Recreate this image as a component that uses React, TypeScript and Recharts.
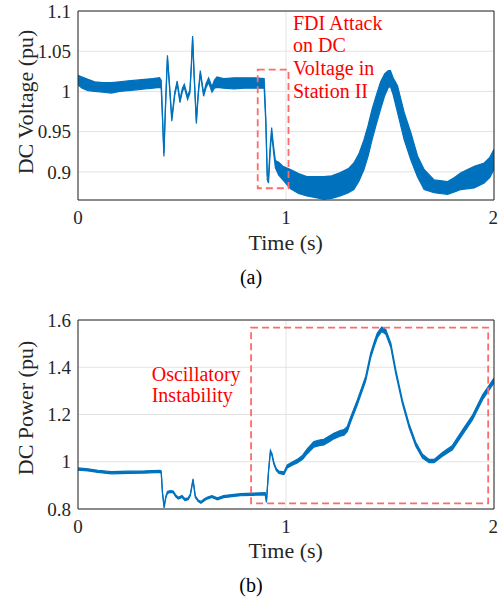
import React from "react";
import { ComposedChart, Area, XAxis, YAxis, CartesianGrid, ReferenceArea } from "recharts";

// DC voltage (top): time, lower and upper edge of the noisy trace
const timeV = [
  0, 0.02, 0.048, 0.08, 0.12, 0.16, 0.2, 0.24, 0.28, 0.32, 0.36, 0.392, 0.4, 0.407, 0.413, 0.42,
  0.43, 0.44, 0.451, 0.465, 0.477, 0.49, 0.502, 0.511, 0.527, 0.538, 0.545, 0.551, 0.558, 0.569,
  0.578, 0.588, 0.596, 0.604, 0.616, 0.628, 0.644, 0.656, 0.668, 0.7, 0.75, 0.8, 0.85, 0.895,
  0.903, 0.91, 0.916, 0.924, 0.931, 0.94, 0.949, 0.965, 0.985, 1.022, 1.06, 1.1, 1.18, 1.22,
  1.261, 1.3, 1.326, 1.35, 1.375, 1.395, 1.414, 1.435, 1.455, 1.475, 1.492, 1.502, 1.515, 1.536,
  1.568, 1.6, 1.632, 1.664, 1.712, 1.777, 1.81, 1.841, 1.905, 1.953, 1.98, 2,
];
const voltLo = [
  1.008, 1.004, 1.001, 1.0, 0.999, 0.998, 1.0, 1.001, 1.002, 1.003, 1.004, 1.005, 1.004, 0.96, 0.919, 0.975,
  1.041, 1.005, 0.963, 0.995, 1.009, 0.986, 1.0, 1.005, 0.99, 0.998, 1.03, 1.065, 1.02, 0.96,
  0.995, 1.022, 1.008, 0.994, 1.005, 1.011, 0.999, 1.004, 1.005, 1.004, 1.003, 1.004, 1.004, 1.004,
  0.96, 0.89, 0.886, 0.925, 0.948, 0.925, 0.905, 0.896, 0.89, 0.879, 0.873, 0.87, 0.866, 0.867,
  0.87, 0.874, 0.878, 0.888, 0.903, 0.92, 0.94, 0.96, 0.978, 0.995, 1.005, 1.006, 0.996, 0.974,
  0.94, 0.915, 0.894, 0.878, 0.874, 0.872, 0.875, 0.878, 0.88, 0.886, 0.893, 0.903,
];
const voltHi = [
  1.02, 1.018, 1.015, 1.012, 1.011, 1.011, 1.012, 1.013, 1.014, 1.015, 1.016, 1.017, 1.014, 0.966, 0.923, 0.979,
  1.045, 1.009, 0.967, 0.999, 1.013, 0.99, 1.004, 1.009, 0.994, 1.002, 1.034, 1.069, 1.024, 0.964,
  0.999, 1.026, 1.012, 0.998, 1.01, 1.017, 1.006, 1.014, 1.018, 1.016, 1.017, 1.017, 1.017, 1.016,
  0.966, 0.896, 0.895, 0.932, 0.955, 0.932, 0.914, 0.912, 0.907, 0.903, 0.898, 0.894, 0.894, 0.895,
  0.899, 0.904, 0.911, 0.922, 0.94, 0.958, 0.978, 0.996, 1.012, 1.022, 1.026, 1.026, 1.017, 1.007,
  0.974, 0.949, 0.92, 0.903, 0.89, 0.888, 0.893, 0.899, 0.907, 0.911, 0.918, 0.928,
];

// DC power (bottom)
const timeP = [
  0, 0.048, 0.096, 0.161, 0.241, 0.321, 0.394, 0.4, 0.406, 0.414, 0.422, 0.43, 0.444, 0.458, 0.47,
  0.482, 0.5, 0.514, 0.53, 0.54, 0.553, 0.564, 0.578, 0.591, 0.606, 0.62, 0.644, 0.67, 0.7, 0.74,
  0.781, 0.84, 0.9, 0.906, 0.916, 0.925, 0.933, 0.941, 0.953, 0.966, 0.99, 1.006, 1.03, 1.054,
  1.08, 1.102, 1.134, 1.16, 1.182, 1.21, 1.23, 1.26, 1.279, 1.295, 1.311, 1.343, 1.383, 1.407,
  1.425, 1.439, 1.46, 1.48, 1.504, 1.528, 1.56, 1.592, 1.624, 1.656, 1.688, 1.712, 1.752, 1.8,
  1.848, 1.897, 1.945, 2,
];
const powLo = [
  0.964, 0.961, 0.955, 0.949, 0.951, 0.952, 0.955, 0.954, 0.866, 0.805, 0.846, 0.866, 0.87, 0.868, 0.851,
  0.842, 0.849, 0.836, 0.839, 0.856, 0.921, 0.849, 0.831, 0.824, 0.834, 0.842, 0.849, 0.839, 0.848, 0.852,
  0.856, 0.858, 0.86, 0.828, 0.955, 1.04, 1.025, 0.991, 0.963, 0.95, 0.946, 0.974, 0.985, 0.995,
  1.01, 1.034, 1.062, 1.068, 1.071, 1.086, 1.097, 1.108, 1.112, 1.128, 1.168, 1.241, 1.341, 1.44,
  1.49, 1.525, 1.551, 1.54, 1.483, 1.371, 1.244, 1.144, 1.066, 1.016, 0.996, 0.996, 1.023, 1.051,
  1.114, 1.178, 1.263, 1.334,
];
const powHi = [
  0.974, 0.97, 0.964, 0.958, 0.96, 0.961, 0.964, 0.961, 0.873, 0.811, 0.853, 0.874, 0.878, 0.876, 0.859,
  0.85, 0.857, 0.844, 0.847, 0.863, 0.928, 0.856, 0.838, 0.832, 0.842, 0.85, 0.857, 0.847, 0.857, 0.861,
  0.865, 0.867, 0.869, 0.835, 0.964, 1.049, 1.034, 1.0, 0.972, 0.96, 0.957, 0.987, 0.999, 1.01,
  1.028, 1.054, 1.086, 1.092, 1.095, 1.11, 1.121, 1.132, 1.136, 1.15, 1.19, 1.262, 1.361, 1.46,
  1.51, 1.545, 1.57, 1.559, 1.502, 1.389, 1.26, 1.16, 1.082, 1.032, 1.01, 1.01, 1.039, 1.069,
  1.134, 1.198, 1.283, 1.354,
];

const timeTicks = [0, 1, 2];
const voltTicks = [0.9, 0.95, 1, 1.05, 1.1];
const powTicks = [0.8, 1, 1.2, 1.4, 1.6];

const BLUE = "#0072BD";
const AXIS = "#262626";
const FONT = "'Liberation Serif', 'DejaVu Serif', serif";

const voltData = timeV.map((t, i) => ({ t, band: [voltLo[i], voltHi[i]] }));
const powData = timeP.map((t, i) => ({ t, band: [powLo[i], powHi[i]] }));

const tickStyle = { fill: AXIS, fontSize: 19, fontFamily: FONT };

interface PanelProps {
  data: { t: number; band: number[] }[];
  yDomain: [number, number];
  yTicks: number[];
  box: { x1: number; x2: number; y1: number; y2: number };
}

const Panel: React.FC<PanelProps> = ({ data, yDomain, yTicks, box }) => (
  <ComposedChart width={498} height={300} data={data} margin={{ top: 11, right: 4, bottom: 0, left: 0 }}>
    <CartesianGrid stroke="#e3e3e3" strokeWidth={1} />
    <XAxis
      dataKey="t"
      type="number"
      domain={[0, 2]}
      ticks={timeTicks}
      height={100}
      axisLine={false}
      tickLine={false}
      tickSize={0}
      tickMargin={11}
      tick={tickStyle}
      allowDataOverflow
    />
    {/* inward tick marks on the top edge */}
    <XAxis
      xAxisId="top"
      orientation="top"
      dataKey="t"
      type="number"
      domain={[0, 2]}
      ticks={timeTicks}
      height={1}
      mirror
      axisLine={false}
      tick={false}
      tickSize={5}
      tickLine={{ stroke: AXIS }}
      allowDataOverflow
    />
    <YAxis
      type="number"
      domain={yDomain}
      ticks={yTicks}
      width={78}
      axisLine={false}
      tickLine={false}
      tickSize={0}
      tickMargin={7}
      tick={tickStyle}
      tickFormatter={(v) => String(v)}
      allowDataOverflow
    />
    {/* inward tick marks on the right edge */}
    <YAxis
      yAxisId="right"
      orientation="right"
      type="number"
      domain={yDomain}
      ticks={yTicks}
      width={1}
      mirror
      axisLine={false}
      tick={false}
      tickSize={5}
      tickLine={{ stroke: AXIS }}
      allowDataOverflow
    />
    <Area
      type="linear"
      dataKey="band"
      stroke={BLUE}
      strokeWidth={1.2}
      fill={BLUE}
      fillOpacity={1}
      dot={false}
      activeDot={false}
      isAnimationActive={false}
    />
    <ReferenceArea
      x1={box.x1}
      x2={box.x2}
      y1={box.y1}
      y2={box.y2}
      fill="none"
      stroke="#ff6b6b"
      strokeWidth={1.8}
      strokeDasharray="7 4"
      ifOverflow="visible"
    />
    <ReferenceArea
      x1={0}
      x2={2}
      y1={yDomain[0]}
      y2={yDomain[1]}
      fill="none"
      stroke={AXIS}
      strokeWidth={1}
      ifOverflow="visible"
    />
  </ComposedChart>
);

const abs = (left: number, top: number, extra: React.CSSProperties = {}): React.CSSProperties => ({
  position: "absolute",
  left,
  top,
  fontFamily: FONT,
  whiteSpace: "nowrap",
  ...extra,
});

const yLabel = (cx: number, cy: number): React.CSSProperties =>
  abs(cx - 150, cy - 11, {
    width: 300,
    height: 22,
    fontSize: 22,
    lineHeight: "22px",
    textAlign: "center",
    color: AXIS,
    transform: "rotate(-90deg)",
  });

const xLabel = (top: number): React.CSSProperties =>
  abs(185.7, top, { width: 200, fontSize: 22, lineHeight: "22px", textAlign: "center", color: AXIS });

const caption = (top: number): React.CSSProperties =>
  abs(151, top, { width: 200, fontSize: 20, lineHeight: "20px", textAlign: "center", color: "#000" });

export default function App() {
  return (
    <div style={{ position: "absolute", left: 0, top: 0, width: 498, height: 600, background: "#fff" }}>
      <div style={{ position: "absolute", left: 0, top: 0 }}>
        <Panel data={voltData} yDomain={[0.865, 1.1]} yTicks={voltTicks} box={{ x1: 0.864, x2: 1.012, y1: 0.8796, y2: 1.027 }} />
      </div>
      <div style={{ position: "absolute", left: 0, top: 309 }}>
        <Panel data={powData} yDomain={[0.8, 1.6]} yTicks={powTicks} box={{ x1: 0.832, x2: 1.972, y1: 0.824, y2: 1.568 }} />
      </div>

      <div style={yLabel(26, 101.5)}>DC Voltage (pu)</div>
      <div style={yLabel(26, 408)}>DC Power (pu)</div>
      <div style={xLabel(231.6)}>Time (s)</div>
      <div style={xLabel(540)}>Time (s)</div>
      <div style={caption(267)}>(a)</div>
      <div style={caption(575)}>(b)</div>

      <div style={abs(293, 11.5, { fontSize: 20, lineHeight: "22.7px", color: "red" })}>
        FDI Attack
        <br />
        on DC
        <br />
        Voltage in
        <br />
        Station II
      </div>
      <div style={abs(151.7, 363.7, { fontSize: 20, lineHeight: "21.7px", color: "red" })}>
        Oscillatory
        <br />
        Instability
      </div>
    </div>
  );
}
